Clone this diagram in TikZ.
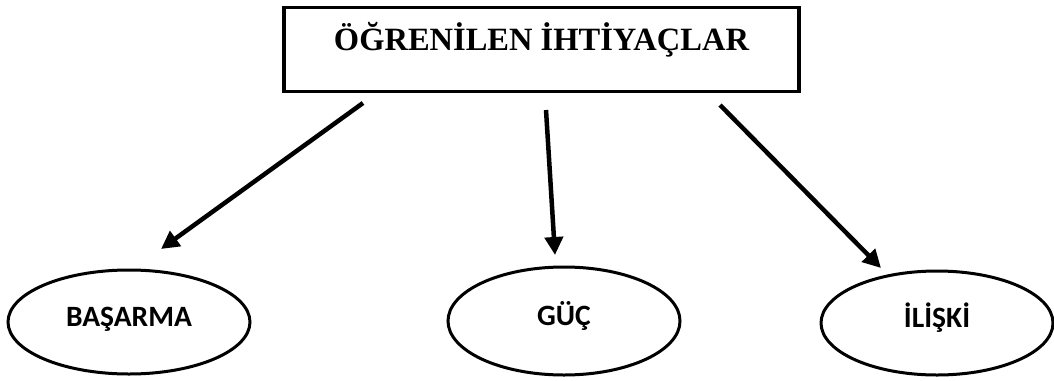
\documentclass[tikz,border=0pt]{standalone}
\usepackage{fontspec}
\setmainfont{Liberation Serif}
\newfontfamily\labelfont{Carlito}
\usetikzlibrary{arrows.meta,shapes.geometric}

\tikzset{
  titlebox/.style={draw, line width=3.5pt, inner sep=0pt, anchor=north,
    minimum width=515pt, text height=43pt, text depth=41pt,
    font=\fontsize{32.5}{38}\selectfont\bfseries},
  need/.style={draw, ellipse, line width=3pt, inner sep=0pt,
    text height=19pt, text depth=11pt,
    font=\labelfont\fontsize{29.5}{34}\selectfont\bfseries},
  arrow/.style={-{Triangle[length=18pt,width=18pt]}, line width=4.5pt}
}

\begin{document}
\begin{tikzpicture}[x=1pt,y=-1pt]
    \useasboundingbox (0,0) rectangle (1054,380);
    % Title box
    \node[titlebox] (needs) at (541.5,5.5) {ÖĞRENİLEN İHTİYAÇLAR};

    % The three needs
    \node[need, minimum width=242pt, minimum height=104pt] (achieve) at (129,322) {BAŞARMA};
    \node[need, minimum width=232pt, minimum height=108pt] (power) at (564,321) {GÜÇ};
    \node[need, minimum width=232pt, minimum height=104pt] (affil) at (937,323) {İLİŞKİ};

    % Arrow ends
    \coordinate (achieveTail) at (363,103); \coordinate (achieveTip) at (161,249);
    \coordinate (powerTail) at (546,110); \coordinate (powerTip) at (555,255);
    \coordinate (affilTail) at (720,105); \coordinate (affilTip) at (881,268);

    % Arrows
    \draw[arrow] (achieveTail) -- (achieveTip);
    \draw[arrow] (powerTail) -- (powerTip);
    \draw[arrow] (affilTail) -- (affilTip);
\end{tikzpicture}
\end{document}
